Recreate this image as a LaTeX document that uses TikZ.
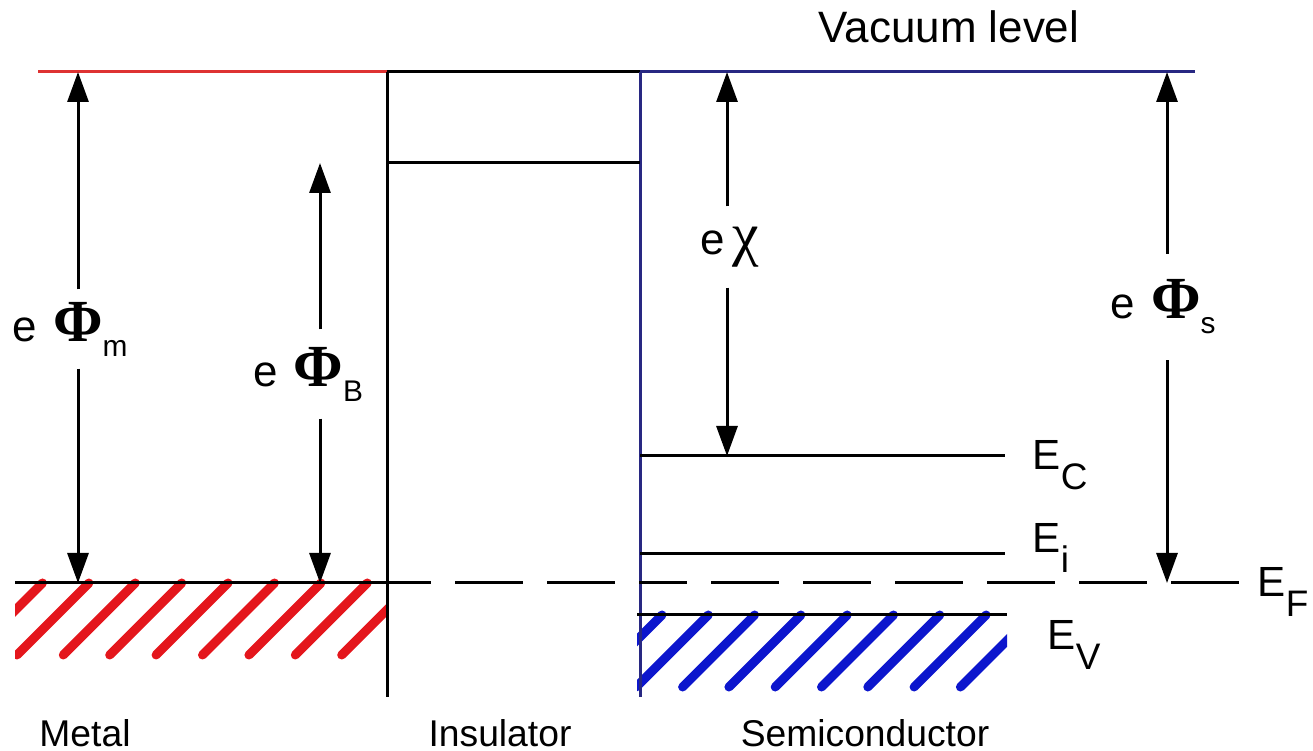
\documentclass[tikz,border=0pt]{standalone}
\usepackage{fontspec}
\setmainfont{Liberation Sans}
\newfontfamily\grkfont{Liberation Serif}
\usetikzlibrary{arrows.meta}
\definecolor{metalred}{RGB}{228,22,28}
\definecolor{vacred}{RGB}{222,50,50}
\definecolor{semiblue}{RGB}{12,22,205}
\definecolor{navy}{RGB}{40,40,130}
\newcommand{\lvl}[2]{#1\raisebox{-2mm}{\fontsize{10.5}{10.5}\selectfont #2}}
\newcommand{\wfn}[1]{e\hspace{1.6mm}{\grkfont\bfseries\fontsize{17}{17}\selectfont Φ}\raisebox{-1.5mm}{\fontsize{8.5}{8.5}\selectfont #1}}

\begin{document}
\begin{tikzpicture}[
  x=0.1mm, y=-0.1mm,
  band/.style={line width=0.3mm},
  fermi/.style={band, dash pattern=on 6.8mm off 2.4mm},
  hatchline/.style={line width=0.9mm, line cap=round},
  arr/.style={line width=0.3mm, -{Triangle[length=3mm,width=2.1mm]}},
  gaplbl/.style={inner sep=0pt, minimum height=#1, font=\fontsize{12.5}{12.5}\selectfont},
  lvllbl/.style={anchor=base west, inner sep=0pt, font=\fontsize{12}{12}\selectfont},
  region/.style={anchor=base, inner sep=0pt, font=\fontsize{10.6}{10.6}\selectfont},
]
\useasboundingbox (0,0) rectangle (1313,751);

% hatched bands
\begin{scope}
  \clip (15,570) rectangle (388,670);
  \foreach \k in {0,...,8}
    \draw[hatchline, metalred] ({42.5+46.4*\k},583) -- ++(-72,72);
\end{scope}
\begin{scope}
  \clip (637,600) rectangle (1007,700);
  \foreach \k in {0,...,8}
    \draw[hatchline, semiblue] ({662+46.3*\k},615) -- ++(-72,72);
\end{scope}

% vacuum level
\draw[band, vacred] (38,72) -- (387,72);
\draw[band] (387,72) -- (640,72);
\draw[band, navy] (640,72) -- (1195,72);
\node[anchor=base, inner sep=0pt, font=\fontsize{12.5}{12.5}\selectfont] (vac) at (949,43) {Vacuum level};

% insulator
\draw[band] (387,72) -- (387,697);
\draw[band, navy] (640,72) -- (640,697);
\draw[band] (387,163) -- (640,163);

% levels
\draw[band] (15,583) -- (387,583);
\draw[fermi, dash phase=2.4mm] (387,583) -- (640,583);
\draw[fermi, dash phase=2.1mm] (640,583) -- (1240,583);
\draw[band] (640,456) -- (1005,456);
\draw[band] (640,554) -- (1005,554);
\draw[band] (637,615) -- (1007,615);

\node[lvllbl] (ec) at (1032,470) {\lvl{E}{C}};
\node[lvllbl] (ei) at (1032,553) {\lvl{E}{i}};
\node[lvllbl] (ef) at (1257,597) {\lvl{E}{F}};
\node[lvllbl] (ev) at (1047,650) {\lvl{E}{V}};

% energy differences
\node[gaplbl=7.8mm] (phim) at (70,329) {\wfn{m}};
\node[gaplbl=8.8mm] (phib) at (308,374) {\wfn{B}};
\node[gaplbl=8mm] (chi) at (730,247) {e\hspace{0.8mm}{\grkfont\fontsize{17}{17}\selectfont χ}};
\node[gaplbl=10.5mm] (phis) at (1163,307) {\wfn{s}};

\coordinate (m-top) at (78,72);
\coordinate (m-bot) at (78,583);
\coordinate (b-top) at (320,163);
\coordinate (b-bot) at (320,583);
\coordinate (x-top) at (727,72);
\coordinate (x-bot) at (727,456);
\coordinate (s-top) at (1167,72);
\coordinate (s-bot) at (1167,583);

\draw[arr] (m-top |- phim.north) -- (m-top);
\draw[arr] (m-bot |- phim.south) -- (m-bot);
\draw[arr] (b-top |- phib.north) -- (b-top);
\draw[arr] (b-bot |- phib.south) -- (b-bot);
\draw[arr] (x-top |- chi.north) -- (x-top);
\draw[arr] (x-bot |- chi.south) -- (x-bot);
\draw[arr] (s-top |- phis.north) -- (s-top);
\draw[arr] (s-bot |- phis.south) -- (s-bot);

% regions
\node[region] (metal) at (85,746) {Metal};
\node[region] (ins) at (500,746) {Insulator};
\node[region] (semi) at (865,746) {Semiconductor};
\end{tikzpicture}
\end{document}
